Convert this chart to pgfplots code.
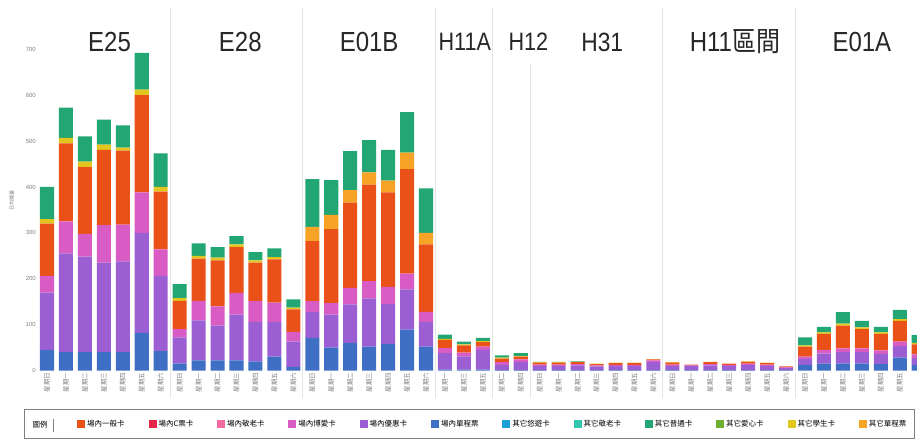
\documentclass[border=0pt]{standalone}
\usepackage{pgfplots}
\pgfplotsset{compat=1.18}
\usepackage{pgfplotstable}
\usepackage{fontspec}
\usepackage{graphicx}
\setmainfont{Liberation Sans}
\newfontfamily\cjk{Noto Sans CJK TC}
\definecolor{c1}{HTML}{EA5119}
\definecolor{c2}{HTML}{E8264A}
\definecolor{c3}{HTML}{F46AA0}
\definecolor{c4}{HTML}{D95CC4}
\definecolor{c5}{HTML}{9C5FD3}
\definecolor{c6}{HTML}{3F6FC4}
\definecolor{c7}{HTML}{1C9FD8}
\definecolor{c8}{HTML}{35C7AD}
\definecolor{c9}{HTML}{22A673}
\definecolor{c10}{HTML}{6BB02E}
\definecolor{c11}{HTML}{E3C520}
\definecolor{c12}{HTML}{F7A325}
\definecolor{sepc}{HTML}{E4E4E4}
\pgfplotstableread{
x blue purple pink red yellow orange green
0 45 125 36 114 10 0 70
1 40 215 70 170 12 0 66
2 40 208 50 145 12 0 55
3 40 195 82 164 11 0 55
4 40 198 80 161 7 0 48
5 82 218 88 212 12 0 80
6 42 164 58 126 10 0 73
7 15 57 18 62 6 0 30
8 22 87 43 92 6 0 27
9 22 76 42 100 6 0 23
10 22 100 47 100 6 0 18
11 20 86 45 84 5 0 18
12 30 76 42 94 5 0 19
13 8 55 21 49 4 0 18
14 71 57 23 131 0 31 104
15 50 72 25 161 0 31 76
16 60 84 36 186 0 27 85
17 52 105 38 210 0 27 70
18 58 87 37 206 0 26 67
19 89 88 34 228 0 36 88
20 52 54 22 147 0 25 97
21 2 36 11 18 2 0 9
22 2 29 8 16 2 0 6
23 2 43 7 10 2 0 7
24 1 11 6 8 2 0 5
25 1 17 6 6 2 0 6
26 1 9 3 4 1 0 1
27 1 9 3 4 1 0 1
28 1 10 3 4 1 0 1
29 1 8 2 3 1 0 0
30 1 9 2 4 1 0 0
31 1 9 2 4 1 0 0
32 1 17 4 2 1 0 0
33 1 9 3 4 1 0 0
34 1 9 1 2 0 0 0
35 1 10 3 4 1 0 0
36 1 9 2 3 0 0 0
37 1 11 3 4 1 0 0
38 1 9 3 3 1 0 0
39 1 5 1 2 0 0 0
40 12 13 5 22 3 0 17
41 15 22 8 35 3 0 12
42 15 25 8 50 4 0 25
43 15 25 8 42 4 0 14
44 14 22 8 36 3 0 12
45 28 25 10 45 4 0 20
46 12 15 8 22 3 0 17
}\data
\pgfplotsset{sq legend/.style={legend image code/.code={\fill[##1, draw=none, line width=0pt] (0pt,-4pt) rectangle (8pt,4pt);}}}
\begin{document}
\begin{tikzpicture}
\useasboundingbox (-38pt,-74.5pt) rectangle (879pt,370.5pt);
\begin{axis}[
  at={(0pt,0pt)}, anchor=south west,
  scale only axis, width=879pt, height=362.5pt,
  xmin=-0.475, xmax=45.91, ymin=0, ymax=790,
  ybar stacked, bar width=0.74,
  clip=false,
  axis line style={draw=none},
  major tick length=0pt,
  ytick={0,100,...,700},
  /pgf/number format/assume math mode=true,
  yticklabel style={font=\fontsize{6}{6}\selectfont, text=gray, inner sep=2pt},
  xtick={0,...,46},
  xticklabels={星期日,星期一,星期二,星期三,星期四,星期五,星期六,
    星期日,星期一,星期二,星期三,星期四,星期五,星期六,
    星期日,星期一,星期二,星期三,星期四,星期五,星期六,
    星期一,星期三,星期五,星期二,星期四,
    星期日,星期一,星期二,星期三,星期四,星期五,星期六,
    星期日,星期一,星期二,星期三,星期四,星期五,星期六,
    星期日,星期一,星期二,星期三,星期四,星期五,星期六},
  xticklabel style={rotate=90, anchor=east, font=\cjk\fontsize{6.5}{7}\selectfont, text=gray, inner sep=2pt},
  ylabel={\cjk 日均運量},
  ylabel style={at={(axis description cs:-0.03,0.47)}, anchor=center, font=\fontsize{5}{5}\selectfont, text=gray},
  legend columns=-1,
  legend cell align=left,
  legend style={at={(axis description cs:-0.0159,-0.1062)}, anchor=north west,
    draw=gray, line width=1.2pt, inner xsep=6pt, inner ysep=7pt,
    font=\cjk\fontsize{7.5}{8}\selectfont,
    /tikz/every even column/.append style={column sep=21.8pt}},
]
\addplot[fill=c6, draw=none, forget plot] table[x=x,y=blue]{\data};
\addplot[fill=c5, draw=none, forget plot] table[x=x,y=purple]{\data};
\addplot[fill=c4, draw=none, forget plot] table[x=x,y=pink]{\data};
\addplot[fill=c1, draw=none, forget plot] table[x=x,y=red]{\data};
\addplot[fill=c11, draw=none, forget plot] table[x=x,y=yellow]{\data};
\addplot[fill=c12, draw=none, forget plot] table[x=x,y=orange]{\data};
\addplot[fill=c9, draw=none, forget plot] table[x=x,y=green]{\data};

\addlegendimage{empty legend}
\addlegendentry{圖例\hspace{5pt}{\color{gray}\rule[-4pt]{0.8pt}{13pt}}}
\addlegendimage{sq legend, fill=c1}\addlegendentry{場內一般卡}
\addlegendimage{sq legend, fill=c2}\addlegendentry{場內C票卡}
\addlegendimage{sq legend, fill=c3}\addlegendentry{場內敬老卡}
\addlegendimage{sq legend, fill=c4}\addlegendentry{場內博愛卡}
\addlegendimage{sq legend, fill=c5}\addlegendentry{場內優惠卡}
\addlegendimage{sq legend, fill=c6}\addlegendentry{場內單程票}
\addlegendimage{sq legend, fill=c7}\addlegendentry{其它悠遊卡}
\addlegendimage{sq legend, fill=c8}\addlegendentry{其它敬老卡}
\addlegendimage{sq legend, fill=c9}\addlegendentry{其它普通卡}
\addlegendimage{sq legend, fill=c10}\addlegendentry{其它愛心卡}
\addlegendimage{sq legend, fill=c11}\addlegendentry{其它學生卡}
\addlegendimage{sq legend, fill=c12}\addlegendentry{其它單程票}

\foreach \s in {6.5,13.5,20.5,23.5,32.5,39.5}{
  \edef\temp{\noexpand\draw[sepc, line width=0.8pt] (axis cs:\s,790) -- (axis cs:\s,-60);}
  \temp
}
\draw[sepc, line width=0.8pt] (axis cs:25.5,665) -- (axis cs:25.5,-60);
\tikzset{ttl/.style={font=\fontsize{24}{24}\selectfont, text=black!85, inner sep=1pt}}
\node[ttl] at (axis cs:3.3,716) {\scalebox{1}[1.15]{E25}};
\node[ttl] at (axis cs:10.2,716) {\scalebox{1}[1.15]{E28}};
\node[ttl] at (axis cs:17.0,716) {\scalebox{1}[1.15]{E01B}};
\node[ttl] at (axis cs:22.05,716) {\scalebox{0.9}[1.05]{H11A}};
\node[ttl] at (axis cs:25.4,716) {\scalebox{0.9}[1.05]{H12}};
\node[ttl] at (axis cs:29.3,716) {\scalebox{0.95}[1.1]{H31}};
\node[ttl] at (axis cs:36.3,716) {\scalebox{1}[1.15]{H11{\cjk 區間}}};
\node[ttl] at (axis cs:43.0,716) {\scalebox{1}[1.15]{E01A}};
\end{axis}
\end{tikzpicture}
\end{document}
